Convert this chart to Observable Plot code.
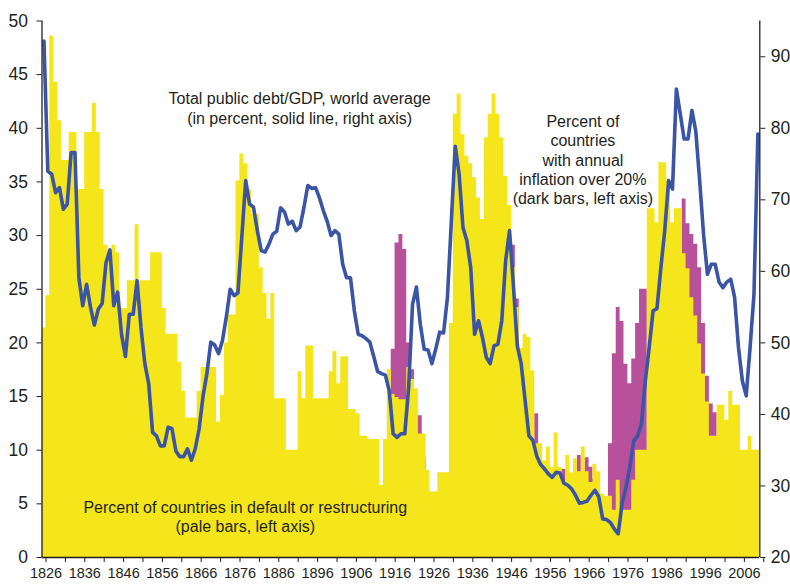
<!DOCTYPE html>
<html><head><meta charset="utf-8">
<script src="https://cdn.jsdelivr.net/npm/d3@7"></script>
<script src="https://cdn.jsdelivr.net/npm/@observablehq/plot@0.6"></script>
<style>body{margin:0;background:#fff}</style>
</head><body><div id="chart"></div>
<script>
const firstYear = 1826;
// Percent of countries in default or restructuring (pale bars, left axis), 1826-2010
const defaultPct = [
 21.4,24.4,48.6,44.3,40.7,37.0,37.0,39.6,39.6,34.3,
 34.3,39.6,39.6,42.3,39.6,34.3,29.1,28.6,29.1,28.4,
 23.2,23.2,25.8,25.8,31.0,25.8,25.8,25.8,28.4,28.4,
 28.4,23.2,20.8,20.8,20.8,18.2,15.5,13.0,13.0,13.0,
 15.5,17.7,17.7,17.7,17.7,12.6,15.1,20.0,22.6,22.6,
 35.1,37.6,36.7,34.3,32.0,32.0,27.0,24.6,22.2,24.6,
 14.8,14.8,14.8,10.0,10.0,10.0,17.3,14.8,19.7,19.7,
 14.8,14.8,14.8,14.8,17.3,19.2,16.2,18.7,18.7,13.8,
 13.8,13.4,11.3,11.3,11.0,11.0,11.0,6.7,11.0,17.5,
 15.2,14.9,14.7,14.7,17.7,16.6,15.7,11.5,11.5,8.1,
 6.1,6.1,7.9,7.9,7.9,21.8,41.3,43.2,39.4,37.4,
 36.7,35.4,33.5,31.5,39.1,41.3,43.2,41.3,39.1,35.5,
 32.8,27.0,23.3,19.5,20.8,20.5,17.4,10.6,10.6,9.0,
 10.3,8.4,11.6,8.4,7.1,9.5,7.9,9.2,8.0,10.3,
 8.0,7.0,8.7,8.0,5.9,5.7,5.7,4.4,7.2,4.4,
 4.4,4.4,7.2,10.0,10.0,10.0,32.5,32.5,31.2,36.8,
 36.8,35.1,31.2,32.5,32.5,28.3,26.9,24.2,22.5,19.9,
 17.1,14.5,11.3,11.3,14.2,14.2,12.8,15.5,14.2,14.2,
 10.0,10.0,11.3,10.0,10.0
];
// Percent of countries with annual inflation over 20% (dark bars, left axis)
const inflationYears = [1916,1917,1918,1919,1920,1921,1922,1923,1924,
 1947,1948,1953,1960,1964,1966,1967,1968,
 1972,1973,1974,1975,1976,1977,1978,1979,1980,1981,
 1991,1992,1993,1994,1995,1996,1997,1998,1999];
const inflationPct = [19.4,29.3,30.1,28.7,20.0,17.5,13.2,13.2,9.3,
 29.1,24.1,13.4,8.2,9.5,9.3,8.4,7.3,
 10.6,19.0,23.3,22.0,18.0,16.2,18.5,21.8,25.0,25.0,
 33.4,31.1,30.1,29.2,27.0,21.8,16.9,14.3,13.5];
// Total public debt/GDP, world average (solid line, right axis), 1826-2010
const debtGdp = [
 92.2,74.0,73.6,71.0,71.7,68.7,69.4,76.6,76.6,59.1,
 55.2,58.2,55.0,52.5,54.7,55.5,61.2,63.0,55.2,57.1,
 51.2,48.1,54.0,54.0,58.7,52.2,47.1,44.3,37.5,37.0,
 35.6,35.6,38.2,38.0,34.9,34.1,34.1,35.2,33.6,35.2,
 38.0,42.5,45.7,50.1,49.7,48.5,50.3,53.6,57.5,56.6,
 57.0,64.8,72.7,69.4,69.0,65.7,62.9,62.7,63.8,65.2,
 65.6,68.9,68.3,66.6,67.0,65.7,66.2,68.9,72.0,71.6,
 71.7,70.3,68.5,67.0,65.0,65.7,65.2,61.0,59.1,59.1,
 54.5,51.2,51.0,50.6,50.1,48.1,46.0,45.7,45.5,43.3,
 37.3,36.8,37.3,37.3,43.8,55.4,57.8,52.6,49.1,49.0,
 47.1,49.2,51.5,51.4,56.4,67.0,77.5,73.6,66.1,64.3,
 60.5,51.2,53.1,50.8,48.0,47.1,49.6,49.8,53.1,61.5,
 65.7,58.0,49.6,47.1,42.0,37.0,36.4,34.2,33.0,32.4,
 31.7,31.2,31.9,31.8,30.4,30.1,29.6,28.7,27.6,27.7,
 27.9,28.7,29.4,28.5,25.4,25.3,24.9,24.0,23.3,27.5,
 29.8,32.6,36.3,37.0,38.7,44.7,49.4,54.5,54.8,60.5,
 65.7,72.7,71.5,85.5,82.0,78.5,78.5,82.5,79.6,72.7,
 65.2,59.6,61.0,61.0,58.5,57.7,58.5,58.9,56.4,49.4,
 44.7,42.6,49.4,56.8,79.2
];
const leftTicks = [0,5,10,15,20,25,30,35,40,45,50];
const rightTicks = [20,30,40,50,60,70,80,90];
const yearTicks = d3.range(1826, 2012, 5);
const notes = [
 {year:1892.4, value:41.9, text:"Total public debt/GDP, world average\n(in percent, solid line, right axis)"},
 {year:1965.4, value:37.1, text:"Percent of\ncountries\nwith annual\ninflation over 20%\n(dark bars, left axis)"},
 {year:1878.4, value:3.86, text:"Percent of countries in default or restructuring\n(pale bars, left axis)"}
];

const YELLOW = "#F5E61C", MAGENTA = "#B8519B", BLUE = "#3A54A6", INK = "#231f20";
const toLeft = r => (r - 20) / 1.5;
const lastYear = firstYear + defaultPct.length - 1;

// step series: one polygon per series (no seams between adjacent yearly bars)
const pale = defaultPct.map((v,i)=>({year:firstYear+i, v}));
pale.push({year:lastYear+1, v:defaultPct[defaultPct.length-1]});
const inflByYear = new Map(inflationYears.map((y,i)=>[y, inflationPct[i]]));
const dark = d3.range(firstYear, lastYear+2).map(y=>({year:y, v: inflByYear.get(y) ?? 0}));
const debt = debtGdp.map((v,i)=>({year:firstYear+i, v}));

const chart = Plot.plot({
  width:790, height:586,
  marginLeft:41.5, marginRight:30.7, marginTop:20.5, marginBottom:29,
  x:{domain:[1826,2011], axis:null},
  y:{domain:[0,50], axis:null},
  style:{fontFamily:'"Liberation Sans", Arial, Helvetica, sans-serif', color:INK, background:"#fff", overflow:"visible"},
  marks:[
    Plot.areaY(dark,{x:"year", y:"v", curve:"step-after", fill:MAGENTA}),
    Plot.areaY(pale,{x:"year", y:"v", curve:"step-after", fill:YELLOW}),
    Plot.line(debt,{x:d=>d.year+0.5, y:d=>toLeft(d.v), stroke:BLUE, strokeWidth:3.6, strokeLinejoin:"round", strokeLinecap:"round"}),
    Plot.ruleX([1826,2011],{stroke:INK, strokeWidth:1.3}),
    Plot.ruleY([0],{stroke:INK, strokeWidth:1.3}),
    Plot.axisY({anchor:"left", ticks:leftTicks, tickSize:5, tickPadding:9, fontSize:17.5, label:null, tickFormat:d=>String(d)}),
    Plot.axisY({anchor:"right", ticks:rightTicks.map(toLeft), tickSize:5, tickPadding:6, fontSize:17.5, label:null, tickFormat:d=>String(Math.round(d*1.5+20))}),
    Plot.axisX({ticks:yearTicks, tickSize:5, tickPadding:5, fontSize:14.5, label:null, dx:4,
      tickFormat:d=>((d-1826)%10===0 && d<=2006) ? String(d) : ""}),
    Plot.text(notes,{x:"year", y:"value", text:"text", fontSize:16, lineHeight:1.2, fill:INK})
  ]
});
document.getElementById("chart").appendChild(chart);
</script>
</body></html>
